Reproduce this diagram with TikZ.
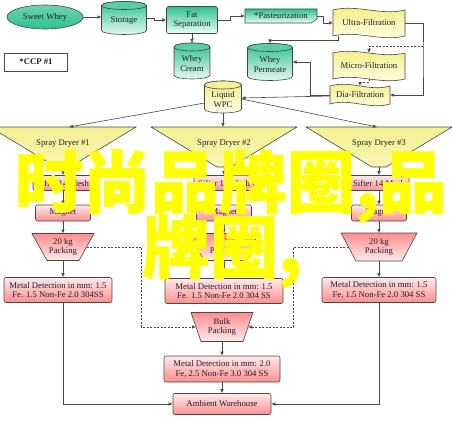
\documentclass[tikz,border=0pt]{standalone}
\usepackage{fontspec}
\setmainfont{Liberation Serif}
\newfontfamily\cjk[FakeBold=1]{Noto Sans CJK SC}
\usetikzlibrary{shapes.geometric,arrows.meta,calc}
\definecolor{linec}{HTML}{474747}
\definecolor{txtc}{HTML}{1E1E30}
\definecolor{grnT}{HTML}{2FC18E}
\definecolor{grnB}{HTML}{E8FFF5}
\definecolor{yelT}{HTML}{F2EE80}
\definecolor{yelB}{HTML}{FFFFE8}
\definecolor{pnkT}{HTML}{FFEAEA}
\definecolor{pnkB}{HTML}{FF8E8E}
\definecolor{wmark}{HTML}{FFFF00}
\tikzset{
  ln/.style={draw=linec, line width=0.6pt},
  arr/.style={ln, -{Latex[length=4pt,width=3.5pt]}},
  arrd/.style={arr, dash pattern=on 2pt off 1.5pt},
  txt/.style={text=txtc, align=center, inner sep=0pt},
  anc/.style={inner sep=0pt, outer sep=0pt, draw=none},
  gbox/.style={draw=linec, line width=0.6pt, rounded corners=2pt, top color=grnT, bottom color=grnB, txt},
  pbox/.style={draw=linec, line width=0.6pt, rounded corners=2pt, top color=pnkT, bottom color=pnkB, txt},
}
\newcommand\Cyl[7]{%
  \pgfmathsetmacro\qL{#2-#4/2}\pgfmathsetmacro\qR{#2+#4/2}%
  \pgfmathsetmacro\qT{-#3+#5/2}\pgfmathsetmacro\qB{-#3-#5/2}\pgfmathsetmacro\qRx{#4/2}%
  \path[draw=linec,line width=0.6pt,top color=#6,bottom color=#6!12!white] (\qL,\qT-4) -- (\qL,\qB+4) arc[start angle=180,end angle=360,x radius=\qRx,y radius=4] -- (\qR,\qT-4) arc[start angle=0,end angle=180,x radius=\qRx,y radius=4] -- cycle;
  \path[draw=linec,line width=0.6pt,fill=#6!80!white] (#2,\qT-4) ellipse[x radius=\qRx,y radius=4];
  \node[anc,minimum width=#4pt,minimum height=#5pt] (#1) at (#2,-#3) {};
  \node[txt] (#1-t) at (#2,-#3-2.5) {#7};}
\newcommand\Tape[6]{%
  \pgfmathsetmacro\qL{#2-#4/2}\pgfmathsetmacro\qR{#2+#4/2}%
  \pgfmathsetmacro\qT{-#3+#5/2}\pgfmathsetmacro\qB{-#3-#5/2}\pgfmathsetmacro\qA{#4/3}%
  \path[draw=linec,line width=0.6pt,top color=yelT,bottom color=yelB] (\qL,\qT) .. controls (\qL+\qA,\qT+6) and (\qR-\qA,\qT-6) .. (\qR,\qT) -- (\qR,\qB) .. controls (\qR-\qA,\qB-6) and (\qL+\qA,\qB+6) .. (\qL,\qB) -- cycle;
  \node[anc,minimum width=#4pt,minimum height=#5pt] (#1) at (#2,-#3) {};
  \node[txt] (#1-t) at (#2,-#3) {#6};}
\newcommand\Trap[7]{%
  \pgfmathsetmacro\qT{-#3+#6/2}\pgfmathsetmacro\qB{-#3-#6/2}\pgfmathsetmacro\qa{#4/2}\pgfmathsetmacro\qb{#5/2}\pgfmathsetmacro\qm{(#4+#5)/2}%
  \path[draw=linec,line width=0.6pt,top color=pnkB,bottom color=pnkT] (#2-\qa,\qT) -- (#2+\qa,\qT) -- (#2+\qb,\qB) -- (#2-\qb,\qB) -- cycle;
  \node[anc,minimum width=\qm pt,minimum height=#6pt] (#1) at (#2,-#3) {};
  \node[txt] (#1-t) at (#2,-#3) {#7};}
\newcommand\Dry[3]{%
  \path[draw=linec,line width=0.6pt,top color=yelT!85!white,bottom color=yelT!55!yelB] (#2-73,-127) -- (#2+73,-127) -- (#2+7,-167) -- (#2-7,-167) -- cycle;
  \node[anc,minimum width=14pt,minimum height=40pt] (#1) at (#2,-147) {};
  \node[txt] (#1-t) at (#2,-144) {#3};}
\begin{document}
\begin{tikzpicture}[x=1pt,y=1pt,font=\fontsize{8.7}{9.8}\selectfont]
\useasboundingbox (0,0) rectangle (452,-420);
\fill[white] (0,0) rectangle (452,-420);

% top row
\node[ellipse, draw=linec, line width=0.6pt, top color=grnT!70!white, bottom color=grnT, minimum width=76pt, minimum height=24pt, txt] (sw) at (45,-17) {Sweet Whey};
\Cyl{storage}{124}{18}{45}{33}{grnT}{Storage}
\node[gbox, minimum width=51pt, minimum height=27pt] (fat) at (192,-20) {Fat\\Separation};
\Cyl{wcream}{192}{61}{36}{36}{grnT}{Whey\\Cream}
\node[draw=linec, line width=0.6pt, minimum width=63pt, minimum height=18pt, text=txtc, font=\fontsize{8.7}{9.8}\selectfont\bfseries] (ccp) at (36,-62) {*CCP \#1};
\path[draw=linec,line width=0.6pt,top color=grnT,bottom color=grnB] (245,-9) -- (317,-9) -- (317,-19) -- (311,-23) -- (245,-23) -- cycle;
\node[anc,minimum width=72pt,minimum height=14pt] (past) at (281,-16) {};
\node[txt] (past-t) at (281,-16) {*Pasteurization};
\Tape{ultra}{369}{23}{72}{26}{Ultra-Filtration}
\Tape{micro}{369}{66}{72}{26}{Micro-Filtration}
\Tape{dia}{360}{95}{60}{18}{Dia-Filtration}
\Cyl{wp}{270}{62}{45}{37}{grnT}{Whey\\Permeate}
\Cyl{lwpc}{223}{97}{37}{32}{yelT}{Liquid\\WPC}

% spray dryers
\Dry{sd1}{63}{Spray Dryer \#1}
\Dry{sd2}{224}{Spray Dryer \#2}
\Dry{sd3}{379}{Spray Dryer \#3}

% columns
\node[pbox, minimum width=60pt, minimum height=15pt] (sif1) at (63,-183) {Sifter 14 Mesh};
\node[pbox, minimum width=60pt, minimum height=15pt] (sif2) at (224,-183) {Sifter 14 Mesh};
\node[pbox, minimum width=60pt, minimum height=15pt] (sif3) at (379,-183) {Sifter 14 Mesh};
\node[pbox, minimum width=55pt, minimum height=16pt] (mag1) at (63,-213) {Magnet};
\node[pbox, minimum width=55pt, minimum height=16pt] (mag2) at (224,-213) {Magnet};
\node[pbox, minimum width=55pt, minimum height=16pt] (mag3) at (379,-213) {Magnet};
\Trap{pk1}{63}{247}{62}{32}{27}{20 kg\\Packing}
\Trap{pk2}{224}{247}{70}{40}{27}{20 kg\\Packing}
\Trap{pk3}{379}{247}{76}{46}{28}{20 kg\\Packing}
\node[pbox, minimum width=108pt, minimum height=25pt] (md1) at (58,-290) {Metal Detection in mm: 1.5\\Fe. 1.5 Non-Fe 2.0 304SS};
\node[pbox, minimum width=118pt, minimum height=25pt] (md2) at (224,-291) {Metal Detection in mm: 1.5\\Fe. 1.5 Non-Fe 2.0 304 SS};
\node[pbox, minimum width=114pt, minimum height=25pt] (md3) at (379,-290) {Metal Detection in mm: 1.5\\Fe, 1.5 Non-Fe 2.0 304 SS};
\Trap{bulk}{222}{327}{62}{42}{29}{Bulk\\Packing}
\node[pbox, minimum width=116pt, minimum height=26pt] (md4) at (222,-369) {Metal Detection in mm: 2.0\\Fe, 2.5 Non-Fe 3.0 304 SS};
\node[pbox, minimum width=98pt, minimum height=21pt] (amb) at (222,-404) {Ambient Warehouse};

% connectors top
\draw[arr] (sw.east) -- (sw.east -| storage.west);
\draw[arr] (storage.east) -- ++(8,0) |- (fat.west);
\draw[arr] (fat.south) -- (wcream.north);
\draw[arr] (fat.east) -- ++(12,0) |- (past.west);
\draw[arr] (past.east) -- ++(6,0) |- (ultra.west);
\draw[arr] ([xshift=5pt]ultra.south west) -- ++(0,-4) -| (wp.north);
\coordinate (rr) at (423,-60);
\coordinate (dd) at (423,-46);
\draw[arr] (ultra.east) -| (rr) |- (dia.east);
\draw[arrd] (dd) -| (micro.north);
\draw[arrd] (micro.south) -- ++(0,-3) -| (dia.north);
\draw[arr] (dia.west) -- ++(-20,0) |- (wp.east);
\draw[arr] ([yshift=-1pt]dia.west) -- ([yshift=-1pt]lwpc.east);
\draw[arr] ([yshift=-6pt]lwpc.west) -- ([xshift=6pt]sd1.north);
\draw[arr] (lwpc.south) -- (lwpc.south |- sd2.north);
\draw[arr] ([yshift=-2pt]lwpc.east) -- ([xshift=-2pt]sd3.north);

% columns connectors
\foreach \i in {1,2,3}{
  \draw[arr] (sd\i.south) -- (sif\i.north);
  \draw[arr] (sif\i.south) -- (mag\i.north);
  \draw[arr] (mag\i.south) -- (pk\i.north);
  \draw[arr] (pk\i.south) -- (pk\i.south |- md\i.north);
}
\draw[arrd] (pk1.east) -- ++(55,0) |- (bulk.west);
\draw[arrd] (pk3.west) -- ++(-55,0) |- (bulk.east);
\draw[arr] (bulk.south) -- (md4.north);
\draw[arr] (md4.south) -- (amb.north);
\draw[arr] (md1.south -| pk1.south) |- (amb.west);
\draw[arr] (md3.south) |- (amb.east);

% watermark
\node[text=wmark, font=\cjk\bfseries\fontsize{68}{72}\selectfont, inner sep=0pt] (wm1) at (231,-186) {时尚品牌圈,品};
\node[text=wmark, font=\cjk\bfseries\fontsize{68}{72}\selectfont, inner sep=0pt] (wm2) at (222,-251) {牌圈,};
\end{tikzpicture}
\end{document}
